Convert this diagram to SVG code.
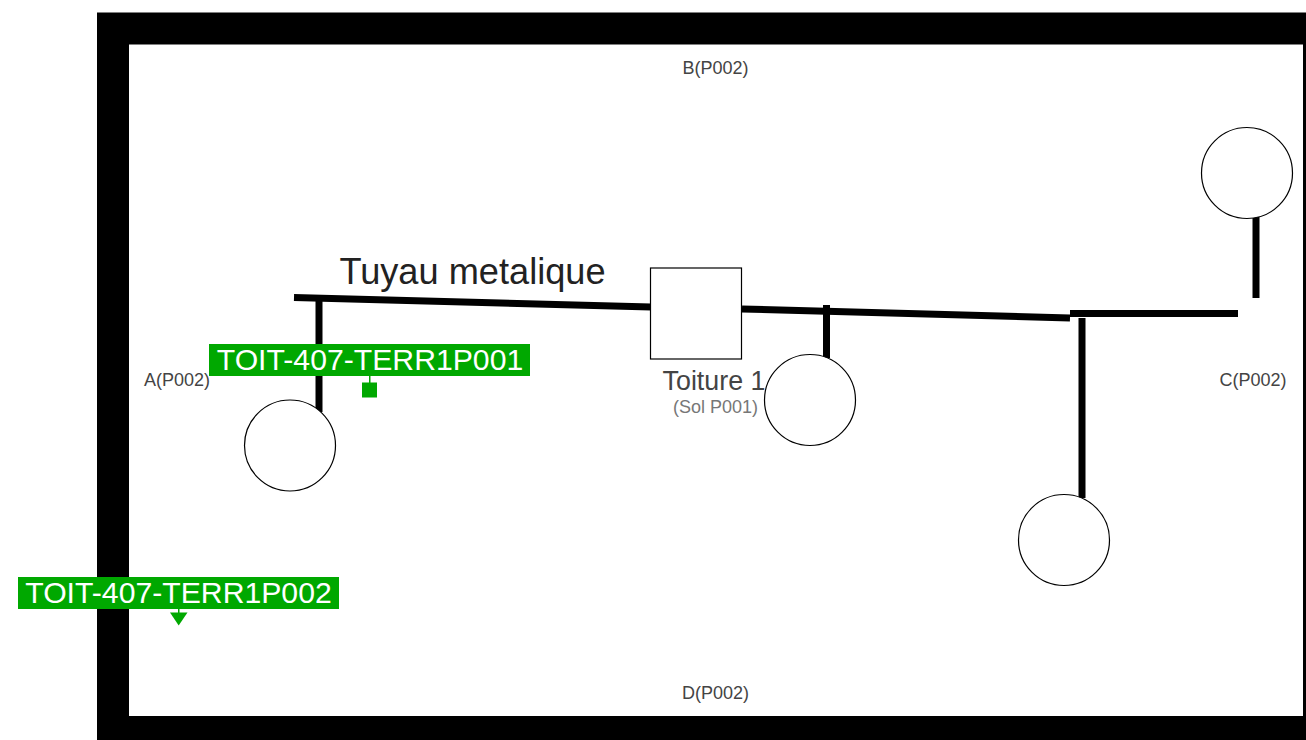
<svg xmlns="http://www.w3.org/2000/svg" width="1306" height="740" viewBox="0 0 1306 740">
<style>
text{font-family:"Liberation Sans",Arial,sans-serif}
.wall{fill:#fff;stroke:#000;stroke-width:32}
.pipe{stroke:#000;stroke-width:7;fill:none}
.node{fill:#fff;stroke:#000;stroke-width:1.200}
.side{font-size:18px;fill:#444;text-anchor:middle}
.tag{fill:#00a800}
.tagt{font-size:30.200px;fill:#fff;text-anchor:middle}
</style>
<rect width="1306" height="740" fill="#fff"/>
<g id="room"><rect class="wall" x="113" y="28.500" width="1206" height="703.500"/></g>
<g id="connectors">
<path class="pipe" d="M294 297.500L651 307"/>
<path class="pipe" d="M742 309L1070 318"/>
<path class="pipe" d="M1070 313.500H1238"/>
<path class="pipe" d="M319 300V412"/>
<path class="pipe" d="M826.500 305V358"/>
<path class="pipe" d="M1082 318V498"/>
<path class="pipe" d="M1256 217V298"/>
</g>
<g id="label-pipe"><text x="472.500" y="283.500" font-size="36.200" fill="#222" text-anchor="middle">Tuyau metalique</text></g>
<g id="roof"><rect class="node" x="650.500" y="268" width="91" height="91"/>
<text x="714" y="390" font-size="26.800" fill="#444" text-anchor="middle">Toiture 1</text>
<text x="715.500" y="413" font-size="18" fill="#777" text-anchor="middle">(Sol P001)</text></g>
<g id="circle-a"><circle class="node" cx="290" cy="445.500" r="45.500"/></g>
<g id="circle-b"><circle class="node" cx="810" cy="400" r="45.500"/></g>
<g id="circle-c"><circle class="node" cx="1064" cy="540" r="45.500"/></g>
<g id="circle-d"><circle class="node" cx="1247" cy="173" r="45.500"/></g>
<g id="side-a"><text class="side" x="177" y="386">A(P002)</text></g>
<g id="side-b"><text class="side" x="715.500" y="74">B(P002)</text></g>
<g id="side-c"><text class="side" x="1253" y="386">C(P002)</text></g>
<g id="side-d"><text class="side" x="715.500" y="699">D(P002)</text></g>
<g id="tag-1">
<rect class="tag" x="209" y="344" width="321" height="32"/>
<text class="tagt" x="370" y="370">TOIT-407-TERR1P001</text>
<rect class="tag" x="369" y="376" width="1.500" height="7"/>
<rect class="tag" x="362" y="382.500" width="15" height="15"/>
</g>
<g id="tag-2">
<rect class="tag" x="18" y="577" width="321" height="32"/>
<text class="tagt" x="178.500" y="603">TOIT-407-TERR1P002</text>
<rect class="tag" x="178" y="609" width="1.500" height="4"/>
<path class="tag" d="M170 612.500H187.500L178.700 625.500Z"/>
</g>
</svg>
